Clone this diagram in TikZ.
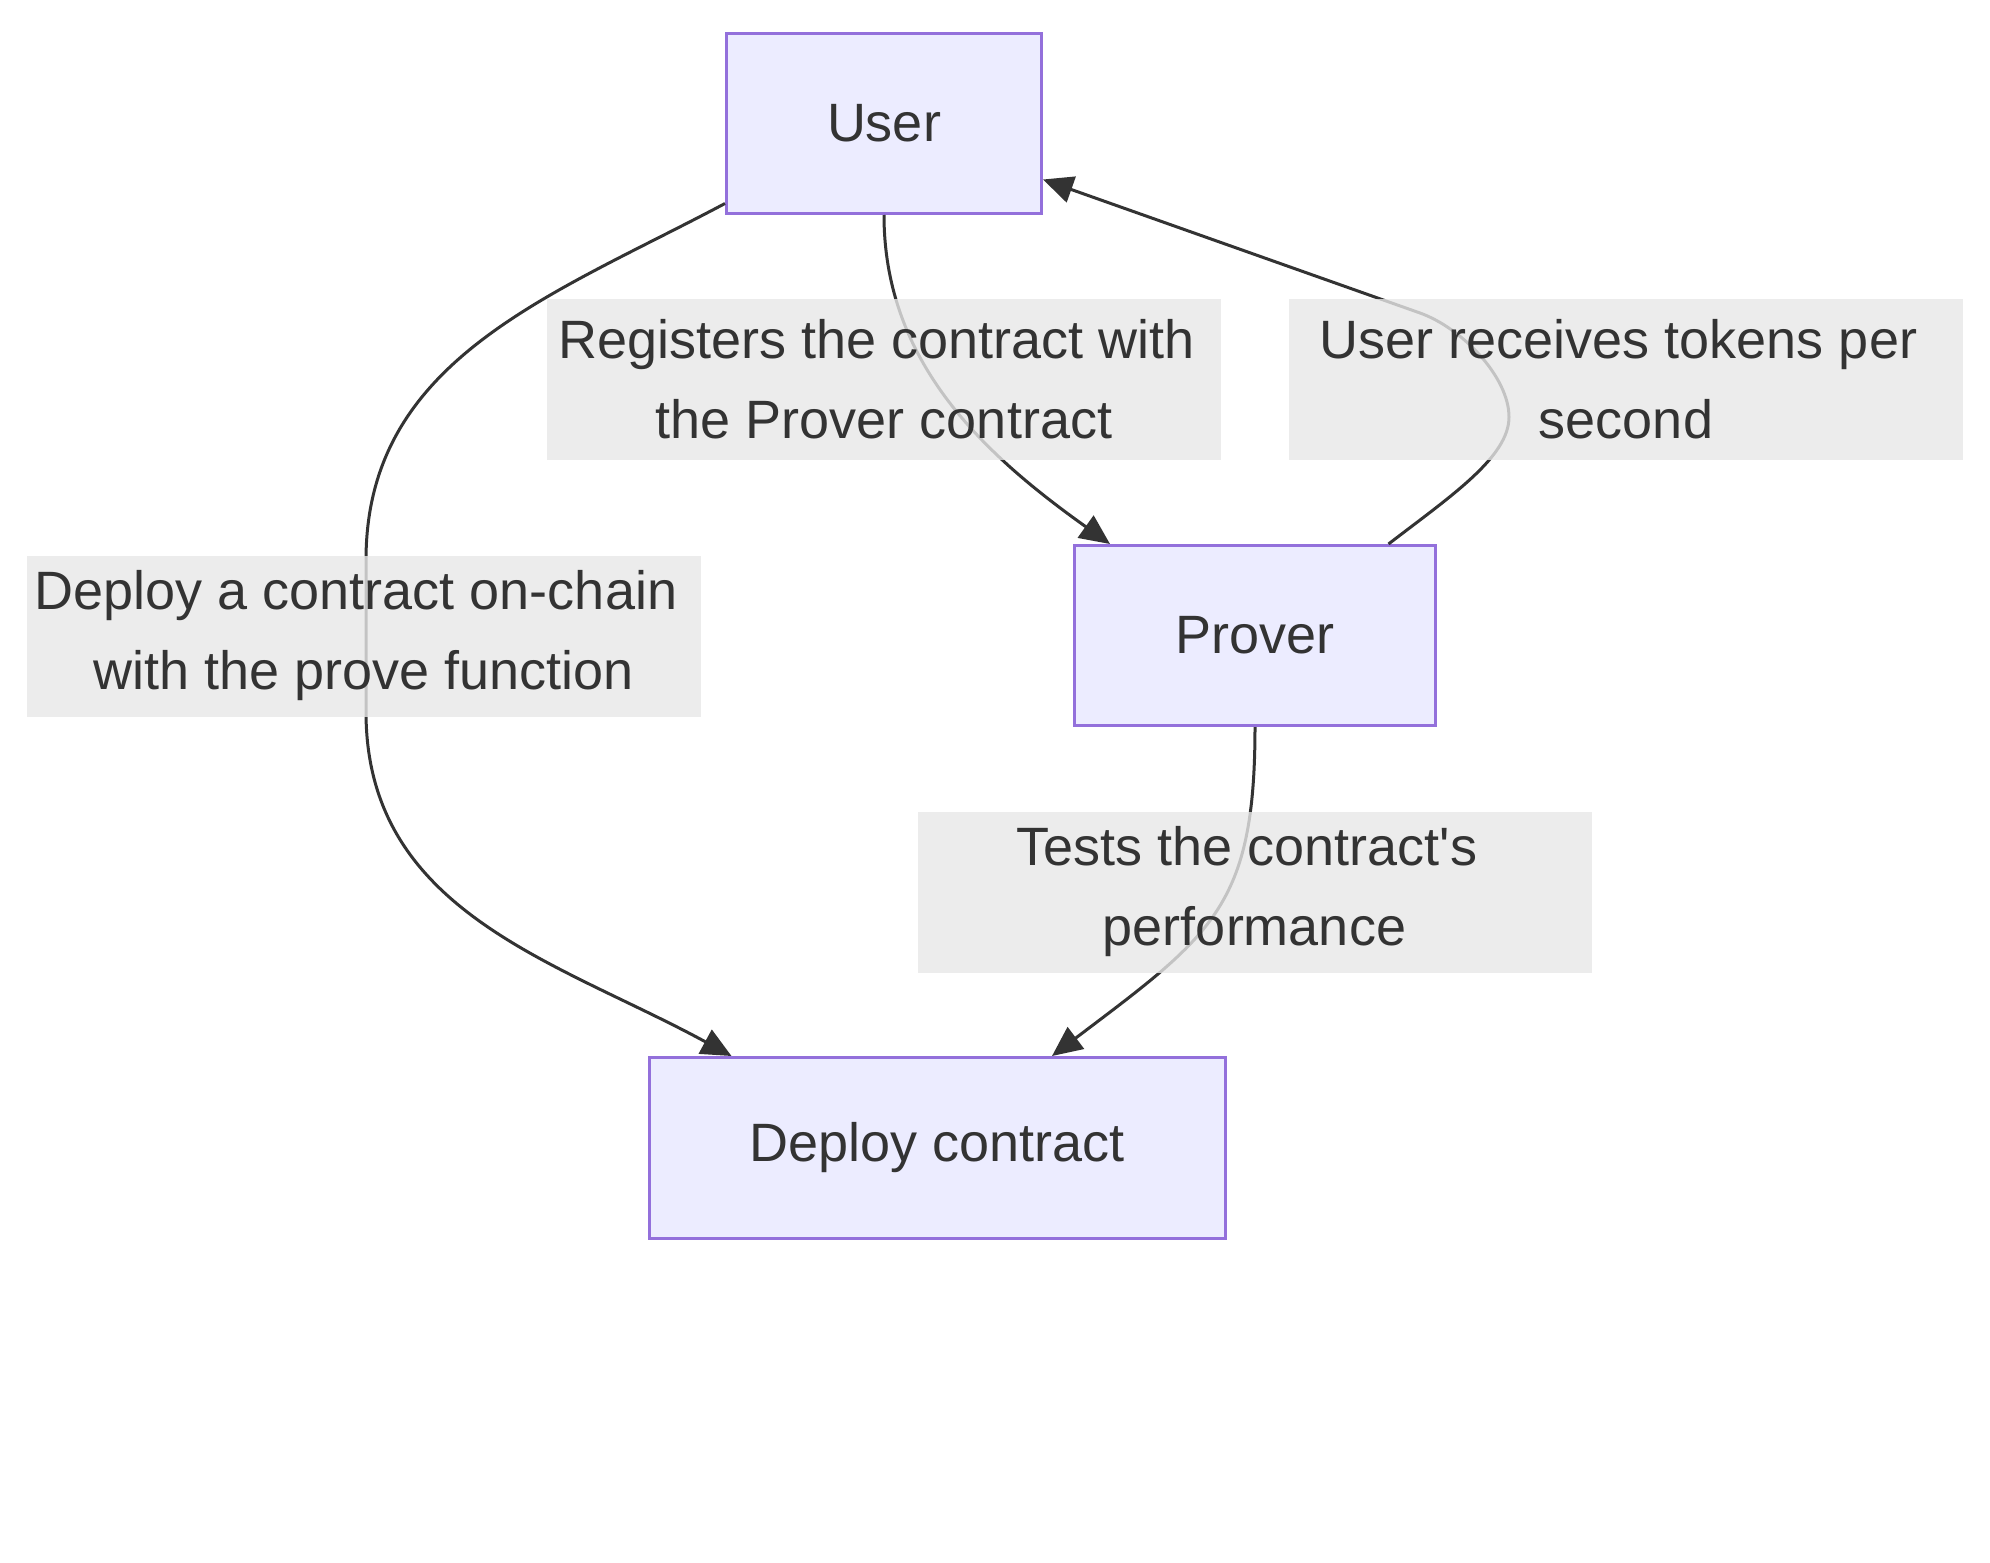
\documentclass[tikz,border=0pt]{standalone}
\usepackage{fontspec}
\setmainfont{Liberation Sans}[Ligatures=TeXOff]
\usetikzlibrary{arrows.meta}
\definecolor{boxfill}{HTML}{ECECFF}
\definecolor{boxline}{HTML}{9370DB}
\definecolor{txt}{HTML}{333333}
\definecolor{lblbg}{HTML}{E8E8E8}
\newcommand{\trsp}{\hspace*{0.278em}}
\begin{document}
\begin{tikzpicture}[x=1pt,y=-1pt,
  box/.style={draw=boxline, fill=boxfill, line width=3pt, text=txt,
    font=\fontsize{54}{64}\selectfont, inner sep=0pt, minimum height=180pt},
  lbl/.style={fill=lblbg, fill opacity=0.8, text opacity=1, text=txt,
    font=\fontsize{54}{80}\selectfont, align=center, inner sep=0pt,
    minimum width=674pt, minimum height=161pt},
  edge/.style={draw=txt, line width=3pt, -{Triangle[length=30pt,width=27pt]}}]
\useasboundingbox (0,0) rectangle (1990,1563);
\fill[white] (0,0) rectangle (1990,1563);

\node[box, minimum width=315pt] (user) at (884,123.5) {User};
\node[box, minimum width=361pt] (prover) at (1255,635.5) {Prover};
\node[box, minimum width=576pt, minimum height=181pt] (deploy) at (937.5,1148) {Deploy contract};

\draw[edge] ([yshift=11.5pt]user.south west) .. controls (549,297) and (366,360) .. (366,560)
  -- (366,712) .. controls (366,912) and (557,961) .. ([xshift=83.5pt]deploy.north west);
\draw[edge] (user.south) .. controls (884,365) and (988,457) .. ([xshift=37pt]prover.north west);
\draw[edge] ([xshift=-48.5pt]prover.north east) .. controls (1451,496) and (1509,457) .. (1509,417)
  .. controls (1509,377) and (1462,328) .. (1420,313) -- ([yshift=35.5pt]user.south east);
\draw[edge] (prover.south) .. controls (1255,907) and (1212,935) .. ([xshift=-175pt]deploy.north east);

\node[lbl] (l1) at (884,379.5) {Registers the contract with\trsp\\the Prover contract};
\node[lbl] (l2) at (1626,379.5) {User receives tokens per\trsp\\second};
\node[lbl] (l3) at (363.5,636) {Deploy a contract on-chain\trsp\\with the prove function};
\node[lbl] (l4) at (1254.5,892) {Tests the contract's\trsp\\performance};
\end{tikzpicture}
\end{document}
